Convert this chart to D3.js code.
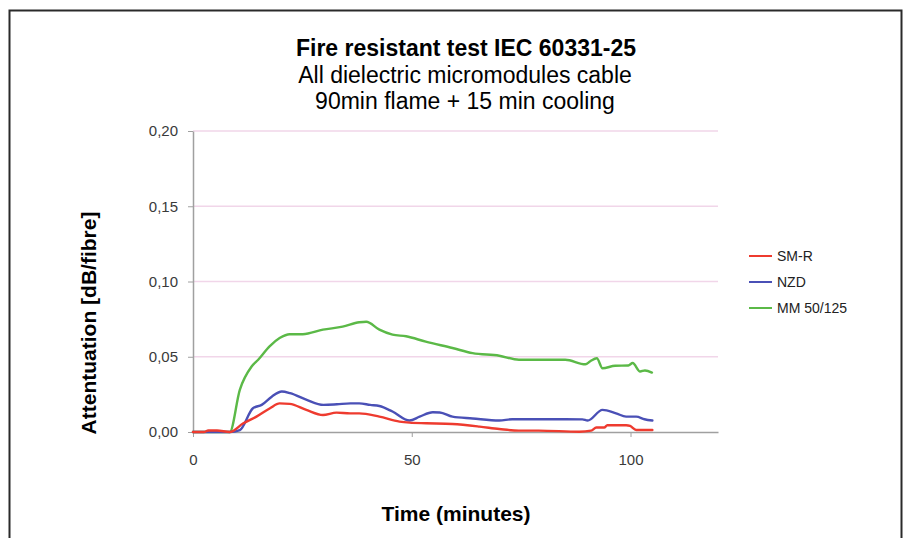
<!DOCTYPE html>
<html>
<head>
<meta charset="utf-8">
<script src="https://cdn.jsdelivr.net/npm/d3@7"></script>
<style>
  html, body { margin: 0; padding: 0; background: #fff; }
  svg { display: block; }
</style>
</head>
<body>
<script>
// ---- Data ----
const seriesNames = ["SM-R", "NZD", "MM 50/125"];
const seriesColors = ["#ee3b2f", "#4a50b6", "#5bb947"];

const timeSMR = [0, 2.5, 3.5, 5.5, 8.4, 11.5, 14.5, 17.6, 19.8, 22.1, 25.9, 29.7, 32.8, 35.9, 38, 42.6, 47.2, 49.5, 53.3, 59.3, 65.5, 70, 74.5, 79, 88.3, 91, 92.2, 94, 94.7, 99, 99.9, 101.3, 105];
const valSMR  = [0, 0, 0.001, 0.001, 0, 0.0058, 0.0102, 0.0158, 0.019, 0.0187, 0.0147, 0.0113, 0.0129, 0.0124, 0.0124, 0.0102, 0.0069, 0.0062, 0.0058, 0.0053, 0.0036, 0.002, 0.0009, 0.0009, 0.0002, 0.0009, 0.003, 0.003, 0.0045, 0.0045, 0.004, 0.0013, 0.0013];

const timeNZD = [0, 8.4, 10.7, 13.7, 15.7, 18, 20.3, 22.2, 26, 29.8, 32.9, 36, 38, 40.5, 42.6, 45.6, 49.5, 51.8, 54.8, 56.4, 59.3, 63.9, 70, 73, 79, 89, 90.2, 93.6, 96.7, 99, 101.3, 103.2, 105];
const valNZD  = [0, 0, 0.0013, 0.0158, 0.018, 0.0235, 0.0269, 0.0258, 0.0213, 0.018, 0.0184, 0.019, 0.019, 0.018, 0.0173, 0.0136, 0.0076, 0.0102, 0.0131, 0.013, 0.0102, 0.009, 0.0076, 0.0085, 0.0085, 0.0084, 0.0076, 0.0147, 0.0124, 0.0102, 0.0102, 0.0085, 0.0076];

const timeMM = [0, 8.4, 10.7, 13.4, 14.9, 17.5, 19.8, 22.1, 25.1, 29.7, 34.2, 38, 39.6, 42.6, 45.6, 48.7, 53.2, 59.3, 63.9, 70, 74.5, 79, 85.1, 89.7, 90.8, 92.3, 93.6, 96.5, 99.5, 100.5, 102.2, 103.3, 104.9];
const valMM  = [0, 0, 0.028, 0.0435, 0.048, 0.0569, 0.0624, 0.065, 0.065, 0.068, 0.070, 0.0729, 0.0733, 0.068, 0.0647, 0.0636, 0.060, 0.0558, 0.0524, 0.0507, 0.048, 0.048, 0.048, 0.045, 0.047, 0.049, 0.0424, 0.044, 0.0442, 0.0458, 0.0402, 0.0409, 0.0395];

const xTicks = [0, 50, 100];
const yTicks = [0, 0.05, 0.10, 0.15, 0.20];

const titleLines = ["Fire resistant test IEC 60331-25", "All dielectric micromodules cable", "90min flame + 15 min cooling"];
const xTitle = "Time (minutes)";
const yTitle = "Attentuation [dB/fibre]";

// ---- Layout ----
const W = 906, H = 538;
const plot = { left: 193, right: 718, top: 131, bottom: 432 };

const svg = d3.select("body").append("svg").attr("width", W).attr("height", H);
const font = "'Liberation Sans', Arial, Helvetica, sans-serif";

// outer frame (open at bottom)
svg.append("path")
  .attr("d", `M9.5,${H} L9.5,10.5 L901.5,10.5 L901.5,${H}`)
  .attr("fill", "none").attr("stroke", "#2a2a2a").attr("stroke-width", 2);

const x = d3.scaleLinear().domain([0, 120]).range([plot.left, plot.right]);
const y = d3.scaleLinear().domain([0, 0.20]).range([plot.bottom, plot.top]);

// grid lines
svg.append("g").selectAll("line").data(yTicks.filter(d => d > 0)).join("line")
  .attr("x1", plot.left).attr("x2", plot.right)
  .attr("y1", d => y(d)).attr("y2", d => y(d))
  .attr("stroke", "#f1d6e9").attr("stroke-width", 1.5);

// y axis
const yAxis = svg.append("g").attr("transform", `translate(${plot.left},0)`)
  .call(d3.axisLeft(y).tickValues(yTicks).tickSize(5).tickSizeOuter(0).tickPadding(10)
    .tickFormat(d => d3.format(".2f")(d).replace(".", ",")));
yAxis.select(".domain").attr("stroke", "#a0a0a0").attr("stroke-width", 1.5);
yAxis.selectAll(".tick line").attr("stroke", "#a0a0a0");
yAxis.selectAll("text").attr("font-family", font).attr("font-size", 15).attr("fill", "#3a3a3a");

// x axis
const xAxis = svg.append("g").attr("transform", `translate(0,${plot.bottom})`)
  .call(d3.axisBottom(x).tickValues(xTicks).tickSize(5).tickSizeOuter(0).tickPadding(17)
    .tickFormat(d3.format("d")));
xAxis.select(".domain").attr("stroke", "#a0a0a0").attr("stroke-width", 1.5);
xAxis.selectAll(".tick line").attr("stroke", "#a0a0a0");
xAxis.selectAll("text").attr("font-family", font).attr("font-size", 15).attr("fill", "#3a3a3a");

// series lines
const series = [
  { name: seriesNames[0], color: seriesColors[0], t: timeSMR, v: valSMR },
  { name: seriesNames[1], color: seriesColors[1], t: timeNZD, v: valNZD },
  { name: seriesNames[2], color: seriesColors[2], t: timeMM, v: valMM }
];
const line = d3.line().x(d => x(d[0])).y(d => y(d[1])).curve(d3.curveMonotoneX);
svg.append("g").selectAll("path").data(series.slice().reverse()).join("path")
  .attr("d", s => line(s.t.map((t, i) => [t, s.v[i]])))
  .attr("fill", "none").attr("stroke", s => s.color).attr("stroke-width", 2.4)
  .attr("stroke-linejoin", "round").attr("stroke-linecap", "round");

// legend
const leg = svg.append("g").attr("transform", "translate(749,256)");
series.forEach((s, i) => {
  const g = leg.append("g").attr("transform", `translate(0,${i * 26})`);
  g.append("line").attr("x1", 0).attr("x2", 23).attr("y1", 0).attr("y2", 0)
    .attr("stroke", s.color).attr("stroke-width", 2);
  g.append("text").attr("x", 28).attr("y", 5).text(s.name)
    .attr("font-family", font).attr("font-size", 14).attr("fill", "#222");
});

// titles
const tg = svg.append("g").attr("font-family", font).attr("fill", "#000").attr("text-anchor", "middle");
tg.append("text").attr("x", 466).attr("y", 56).attr("font-size", 23).attr("font-weight", "bold").text(titleLines[0]);
tg.append("text").attr("x", 465).attr("y", 83).attr("font-size", 23).text(titleLines[1]);
tg.append("text").attr("x", 465).attr("y", 109).attr("font-size", 23).text(titleLines[2]);

svg.append("text").attr("x", 456).attr("y", 521).attr("text-anchor", "middle")
  .attr("font-family", font).attr("font-size", 21).attr("font-weight", "bold").text(xTitle);

svg.append("text").attr("transform", "translate(96,323) rotate(-90)").attr("text-anchor", "middle")
  .attr("font-family", font).attr("font-size", 21).attr("font-weight", "bold").text(yTitle);
</script>
</body>
</html>
